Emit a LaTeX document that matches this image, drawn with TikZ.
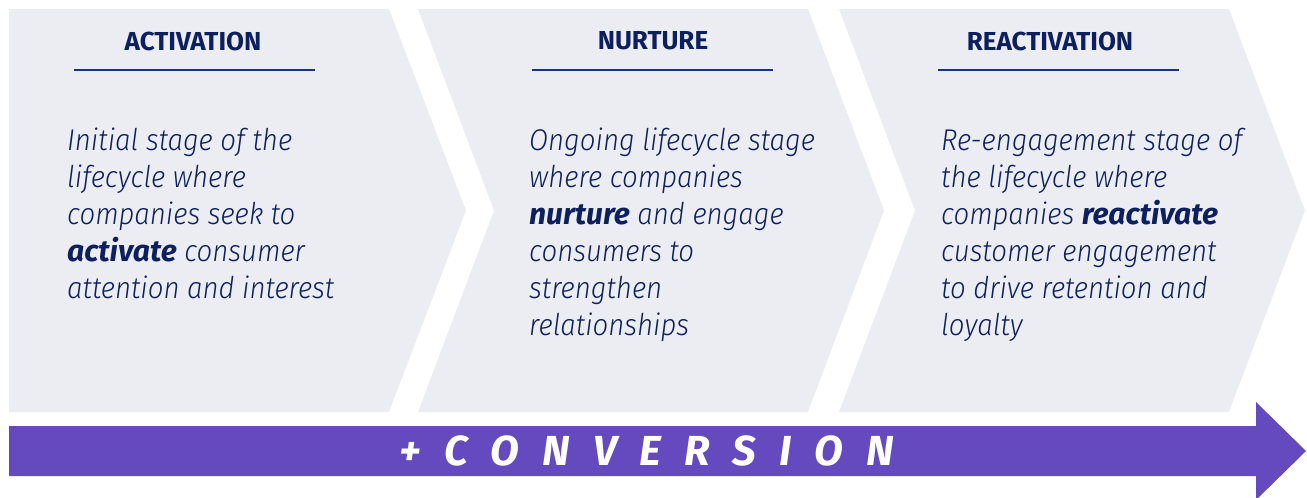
\documentclass[tikz,border=0pt]{standalone}
\usepackage{fontspec}
\setmainfont{Fira Sans}
\newfontfamily\lightfont{Fira Sans Light}[FakeStretch=0.92]
\definecolor{chevgrey}{RGB}{236,237,242}
\definecolor{navy}{RGB}{12,31,94}
\definecolor{rulenavy}{RGB}{28,50,128}
\definecolor{convpurple}{RGB}{101,73,190}
\newcommand\kw[1]{{\normalfont\bfseries\itshape #1}}
\begin{document}
\begin{tikzpicture}[x=1pt,y=-1pt,
  chev/.style={fill=chevgrey,draw=none},
  title/.style={font=\bfseries\fontsize{26}{30}\selectfont,text=navy,inner sep=0pt},
  rule/.style={draw=rulenavy,line width=1.6pt},
  body/.style={font=\lightfont\itshape\fontsize{30}{37}\selectfont,text=navy,
    align=left,anchor=north west,inner sep=0pt}]
\useasboundingbox (0,0) rectangle (1307,498);
% the three stages
\fill[chev] (9,9) -- (389,9) -- (466,210.5) -- (389,412) -- (9,412) -- cycle;
\foreach \l in {418,839}
  \fill[chev] (\l,9) -- ({\l+390},9) -- ({\l+466},210.5) -- ({\l+390},412)
    -- (\l,412) -- ({\l+76},210.5) -- cycle;
\node[title] (act) at (193,41) {ACTIVATION};
\node[title] (nur) at (653,41) {NURTURE};
\node[title] (rea) at (1050,41) {REACTIVATION};
\draw[rule] (74,70) -- (315,70);
\draw[rule] (532,70) -- (773,70);
\draw[rule] (938,70) -- (1179,70);
\node[body] (actbody) at (67,128) {Initial stage of the\\lifecycle where\\companies seek to\\
  \kw{activate} consumer\\attention and interest};
\node[body] (nurbody) at (529,128) {Ongoing lifecycle stage\\where companies\\
  \kw{nurture} and engage\\consumers to\\strengthen\\relationships};
\node[body] (reabody) at (941,128) {Re-engagement stage of\\the lifecycle where\\
  companies \kw{reactivate}\\customer engagement\\to drive retention and\\loyalty};
% conversion arrow
\fill[convpurple] (9,426) -- (1256,426) -- (1256,402) -- (1306,451) -- (1256,500)
  -- (1256,476) -- (9,476) -- cycle;
\node[font=\bfseries\itshape\fontsize{42}{42}\selectfont\addfontfeatures{LetterSpace=55},
  text=white,inner sep=0pt] (conv) at (647,451) {+CONVERSION};
\end{tikzpicture}
\end{document}
